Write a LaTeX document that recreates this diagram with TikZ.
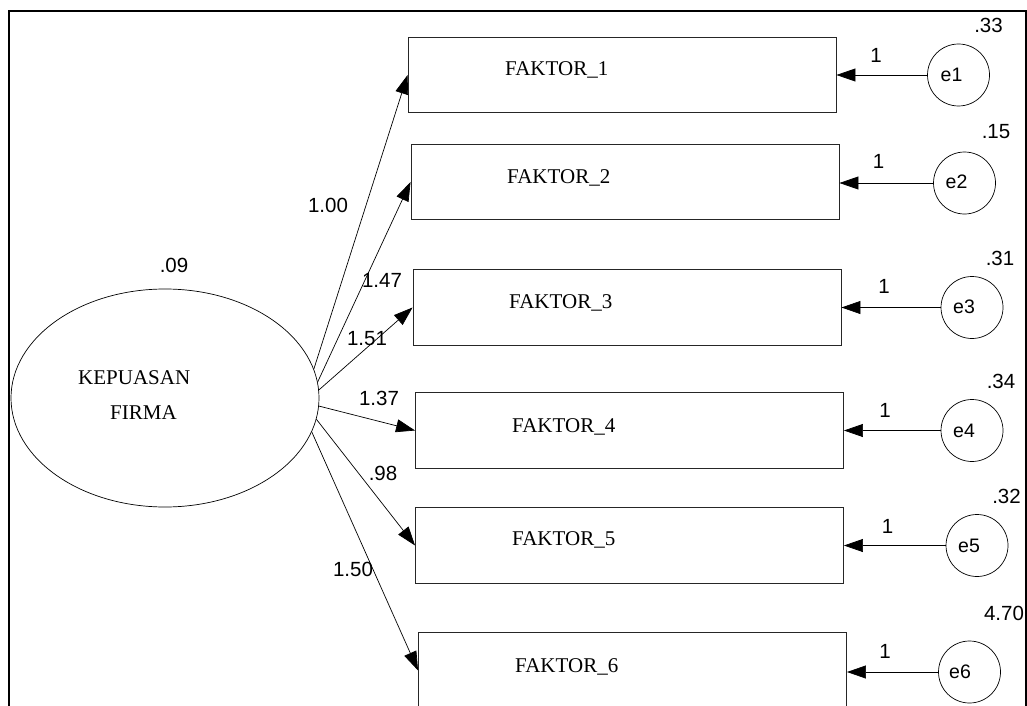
\documentclass[tikz,border=0pt]{standalone}
\usepackage{fontspec}
\setmainfont{Liberation Serif}
\newfontfamily\numfont{Liberation Sans}
\usetikzlibrary{arrows.meta,shapes.geometric}
\begin{document}
\begin{tikzpicture}[x=1pt,y=-1pt,
  obs/.style={draw=black!85, line width=0.9pt, minimum width=428pt, minimum height=75.5pt, inner sep=0pt},
  err/.style={draw, circle, line width=0.7pt, minimum size=62pt, inner sep=0pt},
  lat/.style={draw, ellipse, line width=0.7pt, minimum width=308pt, minimum height=218pt, inner sep=0pt},
  conn/.style={line width=0.7pt, -{Triangle[length=19pt,width=13pt]}},
  ser/.style={font=\fontsize{21}{24}\selectfont, inner sep=0pt, anchor=base west},
  num/.style={font=\numfont\fontsize{20.5}{23}\selectfont, inner sep=0pt, anchor=base},
  elab/.style={font=\numfont\fontsize{19.5}{22}\selectfont, inner sep=0pt, anchor=base},
]
\useasboundingbox (0,0) rectangle (1027,706);
\draw[line width=2pt] (8.5,730) -- (8.5,11.5) -- (1025.5,11.5) -- (1025.5,730);

% latent variable
\node[lat] (K) at (165,398) {};
\node[ser] (kt1) at (78,384) {KEPUASAN};
\node[ser] (kt2) at (110,419) {FIRMA};
\node[num] (vk) at (174,272) {.09};

% observed boxes
\node[obs] (b1) at (622,75) {};
\node[obs] (b2) at (625,182) {};
\node[obs] (b3) at (627,307.5) {};
\node[obs] (b4) at (629.5,430.5) {};
\node[obs] (b5) at (629.5,545.5) {};
\node[obs] (b6) at (632.5,670.5) {};
\node[ser] (t1) at (505,76) {FAKTOR\_1};
\node[ser] (t2) at (507,183) {FAKTOR\_2};
\node[ser] (t3) at (509,308) {FAKTOR\_3};
\node[ser] (t4) at (512,432) {FAKTOR\_4};
\node[ser] (t5) at (512,545) {FAKTOR\_5};
\node[ser] (t6) at (515,672) {FAKTOR\_6};

% error circles
\node[err] (e1) at (958.5,75) {};
\node[err] (e2) at (964.5,183) {};
\node[err] (e3) at (972,307.5) {};
\node[err] (e4) at (972,430.5) {};
\node[err] (e5) at (977,545.5) {};
\node[err] (e6) at (969.5,672) {};
\node[elab] (le1) at (951.5,82) {e1};
\node[elab] (le2) at (956.5,188.5) {e2};
\node[elab] (le3) at (964,313) {e3};
\node[elab] (le4) at (964,437) {e4};
\node[elab] (le5) at (969,552) {e5};
\node[elab] (le6) at (960,678) {e6};

% loadings
\draw[conn] (K.11.5) -- (b1.west);
\draw[conn] (K.6.8) -- (b2.west);
\draw[conn] (K.3) -- (b3.west);
\draw[conn] (K.-3.3) -- (b4.west);
\draw[conn] (K.-8.2) -- (b5.west);
\draw[conn] (K.-13.3) -- (b6.west);

\node[num] (l1) at (328,212) {1.00};
\node[num] (l2) at (382,287) {1.47};
\node[num] (l3) at (367,345) {1.51};
\node[num] (l4) at (379,405) {1.37};
\node[num] (l5) at (383,480) {.98};
\node[num] (l6) at (353,576) {1.50};

% error paths
\draw[conn] (e1.west) -- (b1.east);
\draw[conn] (e2.west) -- (b2.east |- e2.west);
\draw[conn] (e3.west) -- (b3.east |- e3.west);
\draw[conn] (e4.west) -- (b4.east |- e4.west);
\draw[conn] (e5.west) -- (b5.east |- e5.west);
\draw[conn] (e6.west) -- (b6.east |- e6.west);

\node[num] (o1) at (876,63) {1};
\node[num] (o2) at (878.5,168) {1};
\node[num] (o3) at (884,293) {1};
\node[num] (o4) at (885,417) {1};
\node[num] (o5) at (887.5,533) {1};
\node[num] (o6) at (885,658) {1};

\node[num] (v1) at (988.5,33) {.33};
\node[num] (v2) at (996,139) {.15};
\node[num] (v3) at (1000,265) {.31};
\node[num] (v4) at (1001,388) {.34};
\node[num] (v5) at (1006.5,503) {.32};
\node[num] (v6) at (1004,620) {4.70};
\end{tikzpicture}
\end{document}
